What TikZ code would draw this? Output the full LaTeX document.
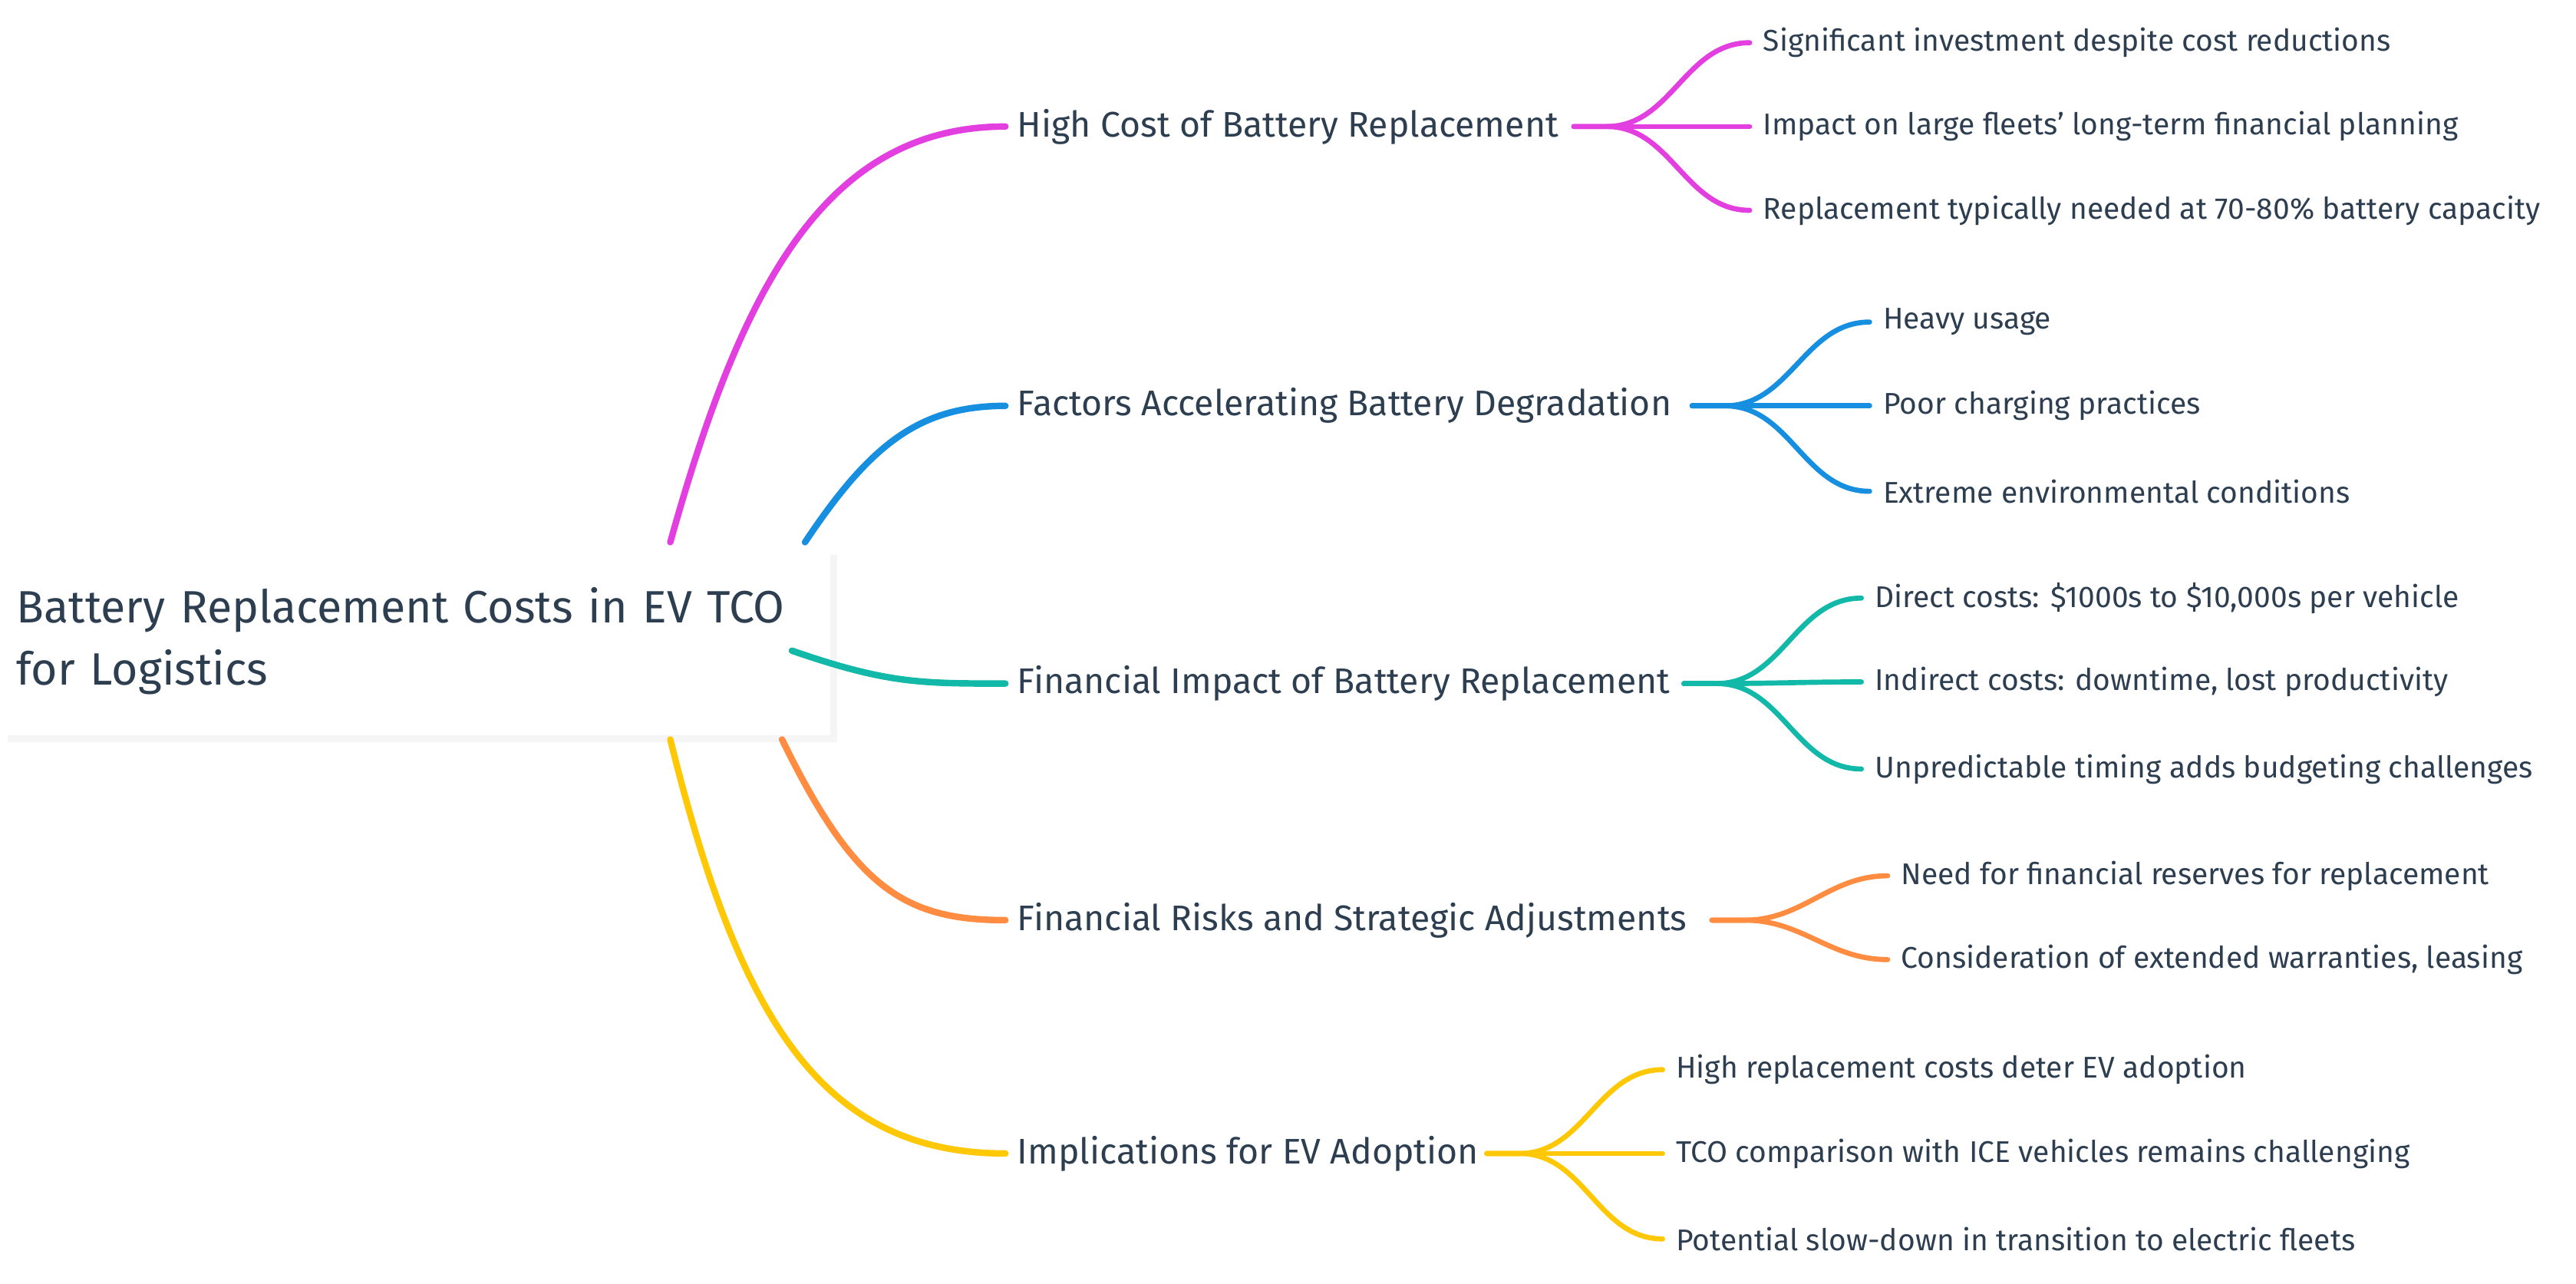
\documentclass[tikz,border=0pt]{standalone}
\usepackage{fontspec}
\setmainfont{Fira Sans}
\usetikzlibrary{shadows}
\definecolor{txt}{HTML}{2D3E50}
\definecolor{cpink}{HTML}{E23EE0}
\definecolor{cblue}{HTML}{168FE0}
\definecolor{cteal}{HTML}{12B8A8}
\definecolor{corange}{HTML}{FF8C40}
\definecolor{cyellow}{HTML}{FFC807}
\tikzset{
	root/.style   = {fill=white, drop shadow={opacity=0.08}, text=txt, font=\fontsize{16.8}{23}\selectfont, align=left, anchor=north west, minimum width=10.81cm, minimum height=2.44cm, inner xsep=0.21cm, text width=10.39cm},
	branch/.style = {text=txt, font=\fontsize{13.2}{15}\selectfont, anchor=west, inner sep=0.15cm},
	leaf/.style   = {text=txt, font=\fontsize{11.1}{13}\selectfont, anchor=west, inner sep=0.17cm},
	hidden/.style = {coordinate},
	bline/.style  = {line width=2.4pt, line cap=round},
	lline/.style  = {line width=1.9pt, line cap=round},
}
\begin{document}
\begin{tikzpicture}[x=0.02141cm, y=-0.02141cm]
	\useasboundingbox (0,0) rectangle (1568,781);
	% Root and branch nodes
	\node[root] (root) at (0,333) {Battery Replacement Costs in EV TCO for Logistics};
	\node[branch] (cost)    at (612,77)  {High Cost of Battery Replacement};
	\node[branch] (factors) at (612,247) {Factors Accelerating Battery Degradation};
	\node[branch] (impact)  at (612,416) {Financial Impact of Battery Replacement};
	\node[branch] (risks)   at (612,560) {Financial Risks and Strategic Adjustments};
	\node[branch] (adopt)   at (612,702) {Implications for EV Adoption};

	% Leaves
	\node[leaf] (cost1) at (1065,26)  {Significant investment despite cost reductions};
	\node[leaf] (cost2) at (1065,77)  {Impact on large fleets' long-term financial planning};
	\node[leaf] (cost3) at (1065,128) {Replacement typically needed at 70-80\% battery capacity};
	\node[leaf] (fac1) at (1138,196) {Heavy usage};
	\node[leaf] (fac2) at (1138,247) {Poor charging practices};
	\node[leaf] (fac3) at (1138,299) {Extreme environmental conditions};
	\node[leaf] (imp1) at (1133,364) {Direct costs: \$1000s to \$10,000s per vehicle};
	\node[leaf] (imp2) at (1133,415) {Indirect costs: downtime, lost productivity};
	\node[leaf] (imp3) at (1133,468) {Unpredictable timing adds budgeting challenges};
	\node[leaf] (risk1) at (1149,533) {Need for financial reserves for replacement};
	\node[leaf] (risk2) at (1149,584) {Consideration of extended warranties, leasing};
	\node[leaf] (ad1) at (1012,651) {High replacement costs deter EV adoption};
	\node[leaf] (ad2) at (1012,702) {TCO comparison with ICE vehicles remains challenging};
	\node[leaf] (ad3) at (1012,754) {Potential slow-down in transition to electric fleets};

	% Fork points
	\node[hidden] (rp) at (408,330) {};
	\node[hidden] (rb) at (490,330) {};
	\node[hidden] (rt) at (482,396) {};
	\node[hidden] (ro) at (476,450) {};
	\node[hidden] (ry) at (408,450) {};
	\node[hidden] (fp) at (958,77) {};
	\node[hidden] (fb) at (1030,247) {};
	\node[hidden] (ft) at (1025,416) {};
	\node[hidden] (fo) at (1042,560) {};
	\node[hidden] (fy) at (905,702) {};

	% Branch connectors
	\draw[bline, cpink]   (rp) .. controls (450,180) and (500,77) .. (cost.west);
	\draw[bline, cblue]   (rb) .. controls (530,270) and (560,247) .. (factors.west);
	\draw[bline, cteal]   (rt) .. controls (540,416) and (560,416) .. (impact.west);
	\draw[bline, corange] (ro) .. controls (520,540) and (550,560) .. (risks.west);
	\draw[bline, cyellow] (ry) .. controls (450,620) and (500,702) .. (adopt.west);

	% Leaf connectors
	\foreach \l in {cost1,cost2,cost3}
		\draw[lline, cpink] (fp) -- ++(20,0) to[out=0, in=180] (\l.west);
	\foreach \l in {fac1,fac2,fac3}
		\draw[lline, cblue] (fb) -- ++(20,0) to[out=0, in=180] (\l.west);
	\foreach \l in {imp1,imp2,imp3}
		\draw[lline, cteal] (ft) -- ++(20,0) to[out=0, in=180] (\l.west);
	\foreach \l in {risk1,risk2}
		\draw[lline, corange] (fo) -- ++(20,0) to[out=0, in=180] (\l.west);
	\foreach \l in {ad1,ad2,ad3}
		\draw[lline, cyellow] (fy) -- ++(20,0) to[out=0, in=180] (\l.west);
\end{tikzpicture}
\end{document}
